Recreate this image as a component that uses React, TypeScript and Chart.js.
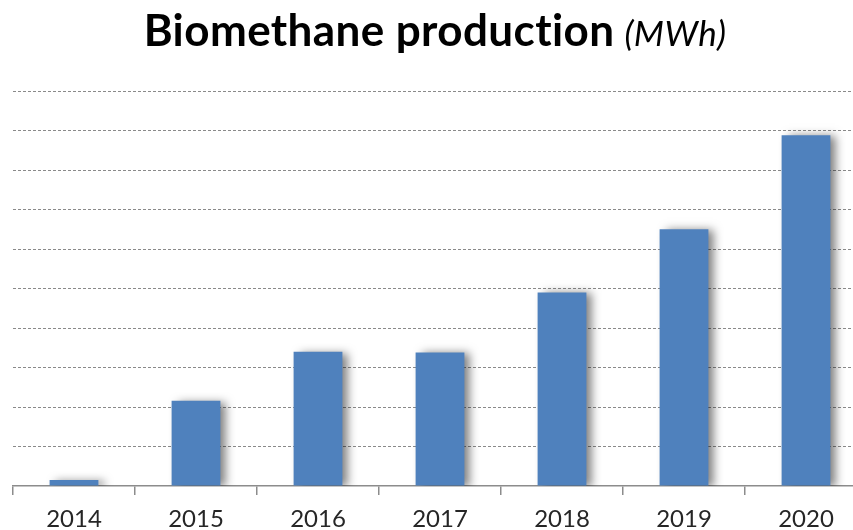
import React, { useEffect, useRef } from "react";
import { Chart, registerables } from "chart.js";

Chart.register(...registerables);

const years = ["2014", "2015", "2016", "2017", "2018", "2019", "2020"];
const production = [0.15, 2.16, 3.4, 3.38, 4.9, 6.5, 8.88];
const titleMain = "Biomethane production";
const titleUnit = "(MWh)";

const shadowPlugin = {
  id: "barShadow",
  beforeDatasetsDraw(chart: any) {
    const ctx = chart.ctx;
    ctx.save();
    ctx.shadowColor = "rgba(0,0,0,0.5)";
    ctx.shadowBlur = 9;
    ctx.shadowOffsetX = 6;
    ctx.shadowOffsetY = 1;
  },
  afterDatasetsDraw(chart: any) {
    chart.ctx.restore();
  },
};

const titlePlugin = {
  id: "mixedTitle",
  afterDraw(chart: any) {
    const ctx = chart.ctx;
    ctx.save();
    try {
      (ctx as any).letterSpacing = "0.4px";
    } catch (e) {}
    const mainFont = "bold 44px Lato";
    const unitFont = "italic 35px Lato";
    ctx.font = mainFont;
    const w1 = ctx.measureText(titleMain).width;
    ctx.font = unitFont;
    const w2 = ctx.measureText(titleUnit).width;
    const gap = 10;
    const total = w1 + gap + w2;
    const cx = 435;
    const x0 = cx - total / 2;
    const baseline = 46;
    ctx.fillStyle = "#000";
    ctx.textBaseline = "alphabetic";
    ctx.textAlign = "left";
    ctx.font = mainFont;
    ctx.fillText(titleMain, x0, baseline);
    ctx.font = unitFont;
    ctx.fillText(titleUnit, x0 + w1 + gap, baseline);
    ctx.restore();
  },
};

export default function App() {
  const ref = useRef<HTMLCanvasElement>(null);
  useEffect(() => {
    if (!ref.current) return;
    const chart = new Chart(ref.current, {
      type: "bar",
      data: {
        labels: years,
        datasets: [
          {
            data: production,
            backgroundColor: "#4F81BD",
            borderWidth: 0,
            categoryPercentage: 1,
            barPercentage: 0.4,
          },
        ],
      },
      options: {
        responsive: false,
        animation: false,
        layout: { padding: { top: 91, left: 13, right: 3, bottom: 0 } },
        plugins: {
          legend: { display: false },
          title: { display: false },
          tooltip: { enabled: false },
        },
        scales: {
          x: {
            grid: {
              display: true,
              drawOnChartArea: false,
              drawTicks: true,
              tickLength: 9,
              color: "#8c8c8c",
              lineWidth: 1.5,
            },
            border: { display: true, color: "#8c8c8c", width: 1.5 },
            ticks: {
              color: "#262626",
              font: { family: "Lato", size: 24, lineHeight: 1 },
              padding: 12,
              maxRotation: 0,
            },
          },
          y: {
            min: 0,
            max: 10,
            ticks: { display: false, stepSize: 1 },
            border: { display: false, dash: [3, 2] },
            grid: {
              color: (c: any) => (c.tick && c.tick.value === 0 ? "rgba(0,0,0,0)" : "#8a8a8a"),
              lineWidth: 1,
              drawTicks: false,
            },
          },
        },
      },
      plugins: [shadowPlugin, titlePlugin],
    });
    return () => chart.destroy();
  }, []);
  return (
    <div
      style={{
        position: "fixed",
        left: 0,
        top: 0,
        width: 853,
        height: 530,
        overflow: "hidden",
        background: "#fff",
      }}
    >
      <canvas ref={ref} width={870} height={543} style={{ display: "block" }} />
    </div>
  );
}
